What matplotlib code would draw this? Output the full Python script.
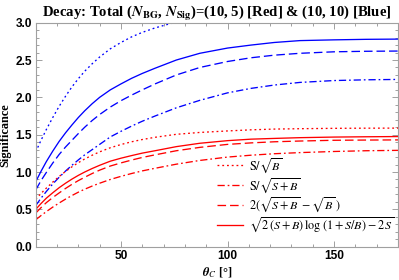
import matplotlib
matplotlib.use("Agg")
import matplotlib.pyplot as plt
from matplotlib.ticker import MultipleLocator, FormatStrFormatter
from matplotlib.lines import Line2D

plt.rcParams['mathtext.fontset'] = 'stix'

theta = [10, 12.5, 15, 18, 21, 24, 27, 30, 33, 36.5, 40, 45, 50, 55, 60, 66, 76, 87, 100, 111, 122, 134, 150, 165, 180]

# Red: (N_BG, N_Sig) = (10, 5)
red_s_sqrtb = [0.635, 0.713, 0.785, 0.865, 0.94, 1.008, 1.07, 1.125, 1.175, 1.225, 1.27, 1.325, 1.368, 1.405, 1.435, 1.465, 1.505, 1.53, 1.55, 1.565, 1.575, 1.58, 1.585, 1.587, 1.588]
red_s_sqrtsb = [0.36, 0.417, 0.47, 0.53, 0.585, 0.637, 0.685, 0.73, 0.77, 0.812, 0.85, 0.90, 0.942, 0.98, 1.015, 1.05, 1.105, 1.155, 1.20, 1.225, 1.245, 1.26, 1.275, 1.285, 1.29]
red_diff = [0.45, 0.523, 0.59, 0.658, 0.72, 0.78, 0.835, 0.885, 0.93, 0.98, 1.025, 1.08, 1.122, 1.16, 1.195, 1.23, 1.285, 1.33, 1.37, 1.39, 1.405, 1.415, 1.425, 1.428, 1.43]
red_asimov = [0.50, 0.578, 0.65, 0.722, 0.79, 0.85, 0.905, 0.955, 1.00, 1.047, 1.09, 1.145, 1.185, 1.22, 1.253, 1.285, 1.34, 1.385, 1.42, 1.44, 1.45, 1.46, 1.468, 1.472, 1.475]

# Blue: (N_BG, N_Sig) = (10, 10)
blue_s_sqrtb = [1.27, 1.425, 1.57, 1.73, 1.88, 2.015, 2.14, 2.25, 2.35, 2.45, 2.54, 2.65, 2.735, 2.81, 2.87, 2.93, 3.01, 3.06, 3.10, 3.12, 3.14, 3.15, 3.16, 3.16, 3.16]
blue_s_sqrtsb = [0.55, 0.65, 0.74, 0.84, 0.93, 1.013, 1.09, 1.162, 1.23, 1.30, 1.37, 1.47, 1.545, 1.615, 1.68, 1.75, 1.86, 1.96, 2.06, 2.12, 2.165, 2.20, 2.225, 2.235, 2.24]
blue_diff = [0.76, 0.885, 0.995, 1.12, 1.235, 1.335, 1.425, 1.515, 1.60, 1.69, 1.77, 1.87, 1.955, 2.03, 2.10, 2.18, 2.30, 2.40, 2.48, 2.53, 2.565, 2.59, 2.61, 2.617, 2.62]
blue_asimov = [0.87, 1.01, 1.14, 1.28, 1.41, 1.525, 1.63, 1.73, 1.82, 1.915, 2.00, 2.10, 2.18, 2.255, 2.32, 2.39, 2.50, 2.59, 2.66, 2.70, 2.735, 2.76, 2.77, 2.777, 2.78]

legend_labels = [r"$\mathrm{S}/\sqrt{B}$",
                 r"$\mathrm{S}/\sqrt{S+B}$",
                 r"$2(\sqrt{S+B}\,-\sqrt{B}\,)$",
                 r"$\sqrt{2\,(S+B)\,\log\,(1+S/B)-2\,S}$"]

RED = (1.0, 0.0, 0.0)
BLUE = (0.0, 0.0, 1.0)
LW = 0.95
styles = {
    'dot': (0, (1.4, 2.2)),
    'dashdot': (0, (5.5, 2.2, 1.3, 2.2)),
    'dash': (0, (6.5, 3.0)),
    'solid': '-',
}

fig = plt.figure(figsize=(3.99, 2.80), dpi=100)
ax = fig.add_axes([0.0895, 0.119, 0.908, 0.800])

ax.plot(theta, blue_s_sqrtb, color=BLUE, lw=LW, linestyle=styles['dot'])
ax.plot(theta, blue_s_sqrtsb, color=BLUE, lw=LW, linestyle=styles['dashdot'])
ax.plot(theta, blue_diff, color=BLUE, lw=LW, linestyle=styles['dash'])
ax.plot(theta, blue_asimov, color=BLUE, lw=LW, linestyle=styles['solid'])

ax.plot(theta, red_s_sqrtb, color=RED, lw=LW, linestyle=styles['dot'])
ax.plot(theta, red_s_sqrtsb, color=RED, lw=LW, linestyle=styles['dashdot'])
ax.plot(theta, red_diff, color=RED, lw=LW, linestyle=styles['dash'])
ax.plot(theta, red_asimov, color=RED, lw=LW, linestyle=styles['solid'])

ax.set_xlim(10, 180)
ax.set_ylim(0, 3.0)

ax.xaxis.set_major_locator(MultipleLocator(50))
ax.xaxis.set_minor_locator(MultipleLocator(10))
ax.yaxis.set_major_locator(MultipleLocator(0.5))
ax.yaxis.set_minor_locator(MultipleLocator(0.1))
ax.yaxis.set_major_formatter(FormatStrFormatter('%.1f'))

frame_col = '#a0a0a0'
for sp in ax.spines.values():
    sp.set_color(frame_col)
    sp.set_linewidth(0.8)
ax.tick_params(which='both', direction='in', top=True, right=True, color=frame_col, width=0.7)
ax.tick_params(which='major', length=4.0, pad=2.5)
ax.tick_params(which='minor', length=2.2)
for lab in ax.get_xticklabels() + ax.get_yticklabels():
    lab.set_fontfamily('Liberation Sans')
    lab.set_fontweight('bold')
    lab.set_fontsize(8.6)

ax.set_title(r"Decay: Total ($\mathbfit{N}_{\mathbf{BG}}$, $\mathbfit{N}_{\mathbf{Sig}}$)=(10, 5) [Red] & (10, 10) [Blue]",
             fontfamily='Liberation Serif', fontweight='bold', fontsize=10.6, pad=3)
ax.set_ylabel("Significance", fontfamily='Liberation Serif', fontweight='bold', fontsize=8.8, labelpad=3)
ax.set_xlabel(r"$\mathbfit{\theta}_{C}$ [°]", fontfamily='Liberation Serif', fontweight='bold', fontsize=9, labelpad=2)

handles = [Line2D([0], [0], color=RED, lw=LW, linestyle=styles[k]) for k in ['dot', 'dashdot', 'dash', 'solid']]
leg = ax.legend(handles, legend_labels, loc='lower left', frameon=False,
                prop={'family': 'Liberation Serif', 'size': 8.7},
                handlelength=2.2, handletextpad=0.45, labelspacing=0.08,
                bbox_to_anchor=(0.50, 0.055), borderaxespad=0.0, borderpad=0.0)

fig.savefig("out.png", dpi=100)
